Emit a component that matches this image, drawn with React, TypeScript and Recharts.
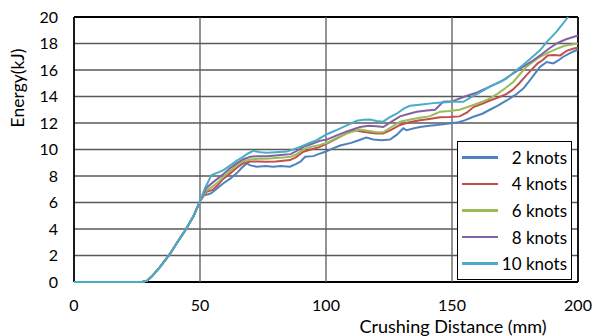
import { LineChart, Line, XAxis, YAxis, CartesianGrid } from 'recharts';

const X_TICKS = [0, 50, 100, 150, 200];
const Y_TICKS = [0, 2, 4, 6, 8, 10, 12, 14, 16, 18, 20];

// shared loading ramp (all speeds overlap here)
const RAMP: [number, number][] = [
  [0, 0], [27, 0], [29, 0.1], [31, 0.45], [34, 1.1], [38, 2.1], [41, 3], [44.5, 4], [47.5, 5], [50, 6.1],
];

const KNOTS_2: [number, number][] = [
  [51.3, 6.55], [53, 6.6], [54.5, 6.7], [57, 7.1], [59.3, 7.45], [62, 7.8], [64.5, 8.2], [66.5, 8.6], [68.5, 8.95],
  [70, 8.8], [72.5, 8.7], [76, 8.75], [79, 8.7], [82, 8.75], [85.7, 8.7], [88, 8.9], [90, 9.1], [91.7, 9.45], [95, 9.5],
  [97, 9.65], [100, 9.85], [103, 10.1], [105.6, 10.3], [110, 10.5], [113, 10.7], [116, 10.9], [118.8, 10.75], [122, 10.7],
  [125.4, 10.75], [128, 11.1], [130.7, 11.6], [132, 11.45], [135, 11.6], [137.3, 11.7], [141, 11.8], [144, 11.85],
  [148, 11.95], [151.9, 12.03], [155, 12.2], [158.5, 12.47], [162, 12.7], [165, 13], [168, 13.3], [171.7, 13.7],
  [175, 14.1], [178.3, 14.6], [180, 15], [182, 15.5], [185, 16.25], [187.6, 16.6], [190.2, 16.5], [192, 16.7],
  [194.2, 17], [197, 17.3], [200, 17.55],
];

const KNOTS_4: [number, number][] = [
  [52.6, 6.8], [55, 6.95], [57, 7.3], [59.3, 7.8], [62, 8.2], [64.5, 8.6], [67, 8.95], [70, 9.1], [73, 9.1],
  [76.5, 9.08], [80, 9.1], [83, 9.15], [85.7, 9.2], [88, 9.4], [91, 9.83], [94, 10], [97.6, 10.2], [100.3, 10.45],
  [104, 10.8], [107, 11.1], [110.8, 11.47], [114, 11.35], [117.5, 11.27], [120, 11.2], [122.7, 11.2], [126, 11.5],
  [129.4, 11.85], [133, 12.05], [137.3, 12.2], [141, 12.3], [145.2, 12.43], [149, 12.45], [153, 12.5], [156, 12.8],
  [158.5, 13.2], [162, 13.45], [165, 13.7], [168, 13.9], [171.7, 14.2], [174, 14.5], [176.7, 15], [179, 15.5],
  [182, 16.1], [184, 16.5], [186, 16.75], [188, 17.1], [190.2, 17.13], [193, 17.1], [195.5, 17.45], [198, 17.6],
  [200, 17.7],
];

const KNOTS_6: [number, number][] = [
  [52.5, 6.9], [55, 7.2], [57, 7.5], [59.3, 7.95], [62, 8.4], [64.5, 8.8], [67, 9.1], [70, 9.25], [73, 9.3],
  [76.5, 9.3], [80, 9.35], [83, 9.4], [86, 9.45], [88, 9.6], [91, 10], [94, 10.2], [97.6, 10.35], [100.3, 10.5],
  [104, 10.85], [108, 11.2], [113.5, 11.5], [117, 11.4], [120, 11.3], [122.7, 11.3], [126, 11.7], [129.4, 12.1],
  [133, 12.25], [137.3, 12.4], [141, 12.5], [145.2, 12.85], [149, 12.9], [153, 13], [158.5, 13.36], [162, 13.6],
  [165, 13.86], [168, 14.2], [171, 14.6], [174.3, 15.1], [177, 15.7], [179.6, 16.25], [182, 16.6], [185, 17],
  [188, 17.3], [191.5, 17.6], [195, 17.85], [200, 18],
];

const KNOTS_8: [number, number][] = [
  [52.5, 7.1], [55, 7.5], [57, 7.8], [59.3, 8.15], [62, 8.6], [64.5, 8.95], [67, 9.25], [70, 9.45], [73, 9.5],
  [76.5, 9.5], [80, 9.55], [83, 9.6], [86, 9.65], [88, 9.85], [91, 10.2], [94, 10.4], [97.6, 10.65], [100.3, 10.75],
  [104, 11.05], [108, 11.35], [113.5, 11.7], [117, 11.8], [120, 11.75], [122.7, 11.7], [126, 12.1], [129.4, 12.5],
  [133, 12.7], [136, 12.85], [140, 12.95], [143.3, 13], [146.5, 13.6], [150.3, 13.65], [155.7, 14.04], [160, 14.3],
  [165, 14.74], [170, 15.2], [174, 15.7], [178.3, 16.25], [182, 16.7], [185, 17.1], [188, 17.55], [191.5, 18],
  [195, 18.3], [200, 18.6],
];

const KNOTS_10: [number, number][] = [
  [52, 7.1], [54.6, 8.07], [57, 8.25], [59.3, 8.45], [62, 8.8], [64.5, 9.15], [67.2, 9.46], [69, 9.7], [71.2, 9.9],
  [74, 9.8], [76.5, 9.76], [80, 9.8], [84.4, 9.84], [87, 10], [89.7, 10.2], [93, 10.45], [96.3, 10.7], [100.3, 11.15],
  [104, 11.45], [108, 11.8], [112.2, 12.17], [115, 12.25], [117.5, 12.27], [120, 12.15], [122.7, 12.1], [125, 12.4],
  [128, 12.7], [131, 13.1], [133.3, 13.3], [138, 13.4], [142.6, 13.5], [146, 13.55], [150.5, 13.6], [154.5, 13.6],
  [158.5, 14.04], [162, 14.4], [165, 14.74], [168, 15], [171.7, 15.37], [175, 15.9], [178.3, 16.4], [182, 17],
  [185, 17.5], [188, 18.2], [191.5, 18.9], [194, 19.5], [196.1, 20],
];

const SERIES = [
  { name: '2 knots', color: '#4F81BD', points: KNOTS_2 },
  { name: '4 knots', color: '#C0504D', points: KNOTS_4 },
  { name: '6 knots', color: '#9BBB59', points: KNOTS_6 },
  { name: '8 knots', color: '#8064A2', points: KNOTS_8 },
  { name: '10 knots', color: '#4BACC6', points: KNOTS_10 },
];

const FONT = 'Lato, "Open Sans", sans-serif';

// grid lines: outer frame black, inner lines dark grey
function gridLine(props: any, horizontal: boolean) {
  const { x1, y1, x2, y2, x, y, width, height } = props;
  const edge = horizontal
    ? Math.abs(y1 - y) < 1 || Math.abs(y1 - (y + height)) < 1
    : Math.abs(x1 - x) < 1 || Math.abs(x1 - (x + width)) < 1;
  return (
    <line
      key={props.key}
      x1={x1}
      y1={y1}
      x2={x2}
      y2={y2}
      stroke={edge ? '#000' : '#595959'}
      strokeWidth={edge ? 1.8 : 1.3}
    />
  );
}

function LegendBox() {
  return (
    <div
      style={{
        position: 'absolute',
        left: 457,
        top: 141,
        border: '1.5px solid #000',
        background: '#fff',
        width: 113,
        padding: '2px 0',
        fontFamily: FONT,
        fontSize: 17,
        color: '#000',
      }}
    >
      {SERIES.map((s) => (
        <div key={s.name} style={{ display: 'flex', alignItems: 'center', height: 26.6 }}>
          <span style={{ marginLeft: 4, width: 36, height: 2.5, background: s.color }} />
          <span style={{ marginLeft: 'auto', marginRight: 4 }}>{s.name}</span>
        </div>
      ))}
    </div>
  );
}

export default function App() {
  return (
    <div style={{ position: 'relative', width: 605, height: 336, background: '#fff' }}>
      <style>{'body{margin:0}'}</style>
      <LineChart width={605} height={336} margin={{ top: 17, right: 27, bottom: 0, left: 0 }}>
        <CartesianGrid
          horizontal={(p: any) => gridLine(p, true)}
          vertical={(p: any) => gridLine(p, false)}
        />
        <XAxis
          type="number"
          dataKey="x"
          domain={[0, 200]}
          ticks={X_TICKS}
          height={54}
          tickSize={0}
          tickMargin={18}
          axisLine={false}
          tick={{ fill: '#000', fontSize: 16, fontFamily: FONT }}
        />
        <YAxis
          type="number"
          domain={[0, 20]}
          ticks={Y_TICKS}
          width={74}
          tickSize={0}
          tickMargin={16}
          axisLine={false}
          tick={{ fill: '#000', fontSize: 16, fontFamily: FONT }}
        />
        {SERIES.map((s) => (
          <Line
            key={s.name}
            name={s.name}
            data={[...RAMP, ...s.points].map(([x, y]) => ({ x, y }))}
            dataKey="y"
            stroke={s.color}
            strokeWidth={2}
            dot={false}
            type="linear"
            isAnimationActive={false}
          />
        ))}
        <text x={453} y={333} textAnchor="middle" fill="#000" fontSize={18} fontFamily={FONT}>
          Crushing Distance (mm)
        </text>
        <text
          x={20}
          y={88}
          transform="rotate(-90 20 88)"
          textAnchor="middle"
          dominantBaseline="middle"
          fill="#000"
          fontSize={17.5}
          fontFamily={FONT}
        >
          Energy(kJ)
        </text>
      </LineChart>
      <LegendBox />
    </div>
  );
}
